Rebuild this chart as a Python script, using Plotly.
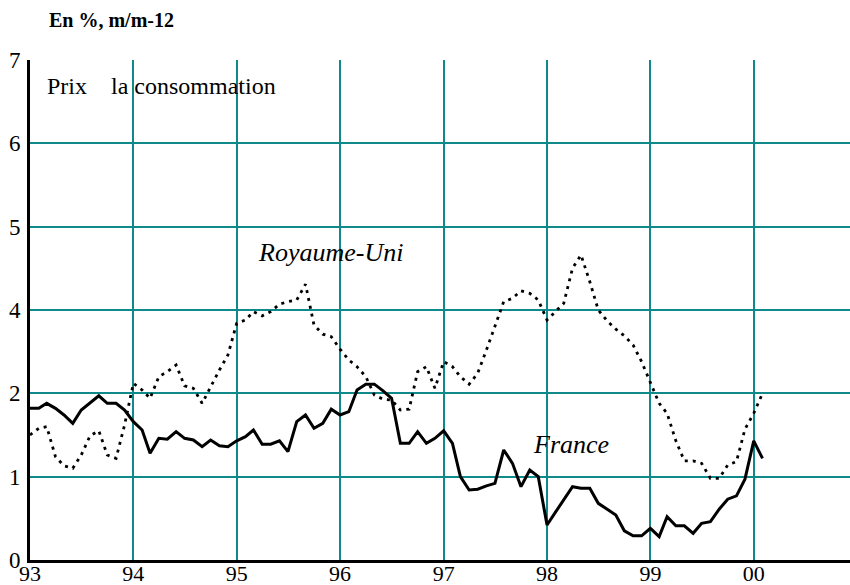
import plotly.graph_objects as go
import pandas as pd

# Monthly dates Jan 1993 - Feb 2000
months = pd.date_range("1993-01-01", periods=86, freq="MS")

# Values read in axis-position units (gridlines 0..6, labelled 0,1,2,4,5,6,7)
france = [1.82, 1.82, 1.88, 1.82, 1.74, 1.64, 1.80, 1.88, 1.97, 1.88, 1.88, 1.80,
          1.66, 1.56, 1.28, 1.46, 1.45, 1.54, 1.46, 1.44, 1.36, 1.44, 1.37, 1.36,
          1.43, 1.48, 1.56, 1.39, 1.39, 1.43, 1.30, 1.66, 1.74, 1.58, 1.64, 1.81,
          1.74, 1.78, 2.04, 2.11, 2.11, 2.03, 1.94, 1.40, 1.40, 1.54, 1.40, 1.46,
          1.55, 1.40, 1.00, 0.84, 0.85, 0.89, 0.92, 1.32, 1.16, 0.88, 1.08, 1.00,
          0.42, 0.58, 0.72, 0.88, 0.86, 0.86, 0.68, 0.61, 0.54, 0.35, 0.29, 0.29,
          0.38, 0.28, 0.52, 0.41, 0.41, 0.32, 0.44, 0.46, 0.61, 0.73, 0.77, 0.97,
          1.43, 1.22]

royaume_uni = [1.50, 1.58, 1.60, 1.24, 1.13, 1.10, 1.26, 1.49, 1.55, 1.26, 1.22, 1.62,
               2.12, 2.04, 1.94, 2.20, 2.26, 2.34, 2.09, 2.06, 1.88, 2.08, 2.28, 2.46,
               2.84, 2.88, 2.98, 2.93, 2.98, 3.07, 3.10, 3.12, 3.31, 2.82, 2.71, 2.68,
               2.53, 2.40, 2.32, 2.20, 1.98, 1.93, 1.92, 1.80, 1.81, 2.26, 2.32, 2.06,
               2.38, 2.32, 2.20, 2.11, 2.24, 2.52, 2.81, 3.10, 3.14, 3.23, 3.20, 3.12,
               2.88, 2.98, 3.08, 3.50, 3.66, 3.34, 3.00, 2.87, 2.77, 2.69, 2.58, 2.38,
               2.12, 1.88, 1.76, 1.43, 1.19, 1.19, 1.16, 0.98, 0.98, 1.14, 1.18, 1.57,
               1.76, 2.00]

x_tickvals = ["1993-01-01", "1994-01-01", "1995-01-01", "1996-01-01",
              "1997-01-01", "1998-01-01", "1999-01-01", "2000-01-01"]
x_ticktext = ["93", "94", "95", "96", "97", "98", "99", "00"]
y_tickvals = [0, 1, 2, 3, 4, 5, 6]
y_ticktext = ["0", "1", "2", "4", "5", "6", "7"]

GRID = "#0e8a8a"
FONT = "Liberation Serif"

fig = go.Figure()
fig.add_trace(go.Scatter(x=months, y=royaume_uni, mode="lines", name="Royaume-Uni",
                         line=dict(color="black", width=2.8, dash="3px,5px")))
fig.add_trace(go.Scatter(x=months, y=france, mode="lines", name="France",
                         line=dict(color="black", width=3)))

fig.update_layout(
    width=850, height=585,
    margin=dict(l=30, r=0, t=60, b=25),
    paper_bgcolor="white", plot_bgcolor="white",
    showlegend=False,
    font=dict(family=FONT, color="black", size=22),
    xaxis=dict(range=["1993-01-01", "2000-12-06"], tickvals=x_tickvals, ticktext=x_ticktext,
               showgrid=True, gridcolor=GRID, gridwidth=2,
               showline=True, linecolor="black", linewidth=3,
               ticks="", automargin=False, ticklabelstandoff=-8,
               tickfont=dict(family=FONT, size=22), zeroline=False),
    yaxis=dict(range=[0, 6], tickvals=y_tickvals, ticktext=y_ticktext,
               showgrid=True, gridcolor=GRID, gridwidth=2,
               showline=True, linecolor="black", linewidth=3,
               ticks="outside", ticklen=2, tickcolor="rgba(0,0,0,0)", automargin=False,
               tickfont=dict(family=FONT, size=23), zeroline=False),
)

fig.add_annotation(text="<b>En %, m/m-12</b>", xref="paper", yref="paper",
                   x=(47 - 30) / 820, y=(560 - 20) / 500, xanchor="left", yanchor="middle",
                   showarrow=False, font=dict(family=FONT, size=20, color="black"))
fig.add_annotation(text="Prix\u00a0\u00a0\u00a0\u00a0la consommation", xref="paper", yref="paper",
                   x=(45 - 30) / 820, y=(560 - 86) / 500, xanchor="left", yanchor="middle",
                   showarrow=False, font=dict(family=FONT, size=24, color="black"))
fig.add_annotation(text="<i>Royaume-Uni</i>", xref="paper", yref="paper",
                   x=(330 - 30) / 820, y=(560 - 252) / 500, xanchor="center", yanchor="middle",
                   showarrow=False, font=dict(family=FONT, size=26, color="black"))
fig.add_annotation(text="<i>France</i>", xref="paper", yref="paper",
                   x=(571 - 30) / 820, y=(560 - 444) / 500, xanchor="center", yanchor="middle",
                   showarrow=False, font=dict(family=FONT, size=26, color="black"))

fig.write_html("out.html", config={"displayModeBar": False},
               post_script="document.body.style.margin='0';")
